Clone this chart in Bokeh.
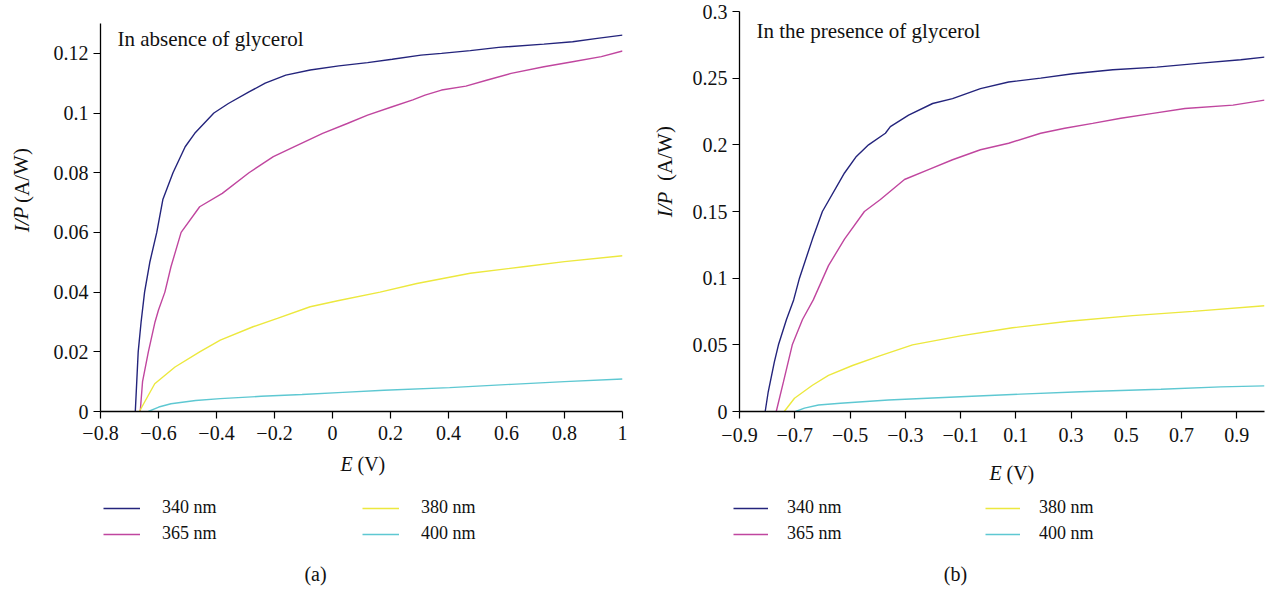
import numpy as np
from bokeh.plotting import figure
from bokeh.models import Range1d, FixedTicker, Label, Legend, LegendItem
from bokeh.layouts import row, column
from bokeh.embed import file_html
from bokeh.resources import INLINE

FONT = "Liberation Serif"
TXT_COLOR = "#111111"

# ---------------- data: panel (a) In absence of glycerol ----------------
E_340_a = [-0.680, -0.675, -0.670, -0.660, -0.648, -0.630, -0.606, -0.585, -0.550, -0.508,
           -0.475, -0.409, -0.359, -0.288, -0.232, -0.161, -0.077, 0.022, 0.121, 0.206,
           0.305, 0.376, 0.475, 0.573, 0.729, 0.828, 0.913, 1.0]
I_340_a = [0.0, 0.010, 0.020, 0.030, 0.040, 0.050, 0.060, 0.071, 0.080, 0.0887,
           0.0932, 0.100, 0.1032, 0.1071, 0.110, 0.1127, 0.1144, 0.1158, 0.1169, 0.118,
           0.1194, 0.120, 0.1209, 0.122, 0.1231, 0.1239, 0.125, 0.1261]

E_365_a = [-0.663, -0.655, -0.635, -0.612, -0.600, -0.578, -0.557, -0.522, -0.458, -0.380,
           -0.288, -0.204, -0.133, -0.034, 0.051, 0.121, 0.206, 0.277, 0.319, 0.376,
           0.460, 0.531, 0.616, 0.729, 0.828, 0.927, 1.0]
I_365_a = [0.0, 0.010, 0.020, 0.030, 0.034, 0.040, 0.0485, 0.060, 0.0686, 0.0731,
           0.080, 0.0854, 0.0887, 0.0932, 0.0965, 0.0993, 0.1021, 0.1044, 0.106, 0.1077,
           0.109, 0.111, 0.1133, 0.1155, 0.1172, 0.1189, 0.1208]

E_380_a = [-0.666, -0.613, -0.543, -0.458, -0.387, -0.274, -0.190, -0.077, 0.022, 0.164,
           0.291, 0.475, 0.658, 0.800, 1.0]
I_380_a = [0.0, 0.0093, 0.0149, 0.020, 0.0239, 0.0284, 0.0312, 0.0351, 0.0372, 0.040,
           0.0429, 0.0463, 0.0485, 0.0502, 0.0522]

E_400_a = [-0.635, -0.599, -0.557, -0.472, -0.387, -0.246, -0.105, 0.036, 0.178, 0.404,
           0.616, 0.800, 1.0]
I_400_a = [0.0, 0.0015, 0.0026, 0.0037, 0.0043, 0.0051, 0.0057, 0.0064, 0.0071, 0.0080,
           0.0091, 0.0100, 0.0109]

# ---------------- data: panel (b) In the presence of glycerol ----------------
E_340_b = [-0.807, -0.796, -0.774, -0.759, -0.730, -0.704, -0.683, -0.636, -0.600, -0.520,
           -0.477, -0.433, -0.372, -0.354, -0.288, -0.201, -0.129, -0.028, 0.074, 0.190,
           0.306, 0.451, 0.610, 0.770, 0.914, 1.0]
I_340_b = [0.0, 0.0148, 0.037, 0.050, 0.069, 0.0837, 0.100, 0.1293, 0.150, 0.1789,
           0.1913, 0.200, 0.2087, 0.2136, 0.2223, 0.231, 0.2347, 0.2422, 0.2471, 0.250,
           0.2533, 0.2563, 0.2583, 0.2613, 0.2638, 0.2658]

E_365_b = [-0.767, -0.741, -0.709, -0.672, -0.633, -0.578, -0.520, -0.448, -0.390, -0.303,
           -0.216, -0.129, -0.028, 0.074, 0.190, 0.277, 0.378, 0.480, 0.596, 0.712,
           0.886, 1.0]
I_365_b = [0.0, 0.0222, 0.050, 0.069, 0.0837, 0.1094, 0.1293, 0.150, 0.159, 0.174,
           0.1814, 0.1888, 0.1963, 0.2012, 0.2087, 0.2124, 0.2161, 0.2199, 0.2236, 0.2273,
           0.2298, 0.2335]

E_380_b = [-0.738, -0.701, -0.636, -0.578, -0.491, -0.390, -0.274, -0.100, 0.088, 0.291,
           0.523, 0.741, 1.0]
I_380_b = [0.0, 0.0099, 0.0197, 0.0271, 0.0345, 0.0419, 0.050, 0.0567, 0.0628, 0.0677,
           0.0719, 0.0751, 0.0793]

E_400_b = [-0.697, -0.665, -0.614, -0.535, -0.361, -0.100, 0.117, 0.335, 0.625, 0.842, 1.0]
I_400_b = [0.0, 0.0025, 0.0049, 0.0062, 0.0086, 0.0111, 0.0130, 0.0148, 0.0167, 0.0185, 0.0192]

series_names = ["340 nm", "365 nm", "380 nm", "400 nm"]
series_colors = ["#24247c", "#c0469f", "#ece83e", "#5ec8d2"]

# tick labels
xticks_a = [-0.8, -0.6, -0.4, -0.2, 0, 0.2, 0.4, 0.6, 0.8, 1]
xlabels_a = ["\u22120.8", "\u22120.6", "\u22120.4", "\u22120.2", "0", "0.2", "0.4", "0.6", "0.8", "1"]
yticks_a = [0, 0.02, 0.04, 0.06, 0.08, 0.1, 0.12]
ylabels_a = ["0", "0.02", "0.04", "0.06", "0.08", "0.1", "0.12"]

xticks_b = [-0.9, -0.7, -0.5, -0.3, -0.1, 0.1, 0.3, 0.5, 0.7, 0.9]
xlabels_b = ["\u22120.9", "\u22120.7", "\u22120.5", "\u22120.3", "\u22120.1", "0.1", "0.3", "0.5", "0.7", "0.9"]
yticks_b = [0, 0.05, 0.1, 0.15, 0.2, 0.25, 0.3]
ylabels_b = ["0", "0.05", "0.1", "0.15", "0.2", "0.25", "0.3"]

MAIN_H = 450
BOTTOM_H = 140


def blank_fig(width, height):
    f = figure(width=width, height=height, output_backend="svg", toolbar_location=None,
               x_range=Range1d(0, 1), y_range=Range1d(0, 1),
               x_axis_type=None, y_axis_type=None,
               min_border_left=0, min_border_right=0, min_border_top=0, min_border_bottom=0)
    f.grid.visible = False
    f.outline_line_color = None
    f.background_fill_color = "white"
    f.border_fill_color = "white"
    return f


def txt(**kw):
    d = dict(x_units="screen", y_units="screen", text_font=FONT, text_font_size="20px",
             text_color=TXT_COLOR, text_baseline="middle")
    d.update(kw)
    return d


def main_fig(width, bl, br, bt, xr, yr, xt, xl, yt, yl, data, title, title_dy, x_std):
    p = figure(width=width, height=MAIN_H, output_backend="svg", toolbar_location=None,
               x_range=Range1d(*xr), y_range=Range1d(*yr),
               min_border_left=bl, min_border_right=br,
               min_border_top=bt, min_border_bottom=39)
    p.xgrid.visible = False
    p.ygrid.visible = False
    p.outline_line_color = None
    p.background_fill_color = "white"
    p.border_fill_color = "white"
    for ax, ticks, labels, std in ((p.xaxis[0], xt, xl, x_std), (p.yaxis[0], yt, yl, 5)):
        ax.ticker = FixedTicker(ticks=ticks)
        ax.major_label_overrides = {t: s for t, s in zip(ticks, labels)}
        ax.minor_tick_line_color = None
        ax.major_tick_in = 0
        ax.major_tick_out = 7
        ax.major_tick_line_width = 1.2
        ax.axis_line_width = 1.3
        ax.axis_line_color = "black"
        ax.major_tick_line_color = "black"
        ax.major_label_text_font = FONT
        ax.major_label_text_font_size = "20px"
        ax.major_label_text_color = TXT_COLOR
        ax.major_label_standoff = std
    for (xs, ys), col in zip(data, series_colors):
        p.line(xs, ys, line_color=col, line_width=1.4)
    fh = MAIN_H - bt - 39
    p.add_layout(Label(x=17, y=fh - title_dy, text=title, **txt(text_font_size="21px")))
    return p


def ylab_fig(width, xc, y_ip, y_aw):
    f = blank_fig(width, MAIN_H)
    f.add_layout(Label(x=xc, y=y_ip, text="I/P", angle=1.5708, text_align="center",
                       **txt(text_font_style="italic", text_font_size="21px")))
    f.add_layout(Label(x=xc, y=y_aw, text="(A/W)", angle=1.5708, text_align="center",
                       **txt(text_font_size="21px")))
    return f


def bottom_fig(width, e_x, e_y, leg_x, glyph_w, standoff, pitch, cap_x, caption):
    f = blank_fig(width, BOTTOM_H)
    f.add_layout(Label(x=e_x, y=e_y, text="E", **txt(text_font_style="italic")))
    f.add_layout(Label(x=e_x + 17, y=e_y, text="(V)", **txt()))
    items = []
    for name, col in zip(series_names, series_colors):
        # legend sample only: a single undefined point, nothing is drawn in the frame
        r = f.line(x=np.array([np.nan]), y=np.array([np.nan]), line_color=col, line_width=1.6)
        items.append(LegendItem(label=name, renderers=[r]))
    legend = Legend(items=items, location=(leg_x, 46), orientation="vertical", nrows=2,
                    glyph_width=glyph_w, glyph_height=20, label_height=20,
                    label_standoff=standoff, spacing=5,
                    label_width=pitch - glyph_w - standoff - 5,
                    padding=0, margin=0, border_line_color=None, background_fill_alpha=0,
                    label_text_font=FONT, label_text_font_size="18px", label_text_color=TXT_COLOR)
    f.add_layout(legend, "center")
    f.add_layout(Label(x=cap_x, y=17, text=caption, text_align="center", **txt()))
    return f


data_a = [(E_340_a, I_340_a), (E_365_a, I_365_a), (E_380_a, I_380_a), (E_400_a, I_400_a)]
data_b = [(E_340_b, I_340_b), (E_365_b, I_365_b), (E_380_b, I_380_b), (E_400_b, I_400_b)]

# panel (a): columns 0..633 ; frame x 100..622, y 23..411
ya = ylab_fig(40, 21, 192, 236)
ma = main_fig(593, 60, 11, 23, (-0.8, 1.0), (0, 0.13), xticks_a, xlabels_a, yticks_a, ylabels_a,
              data_a, "In absence of glycerol", 15, 7)
ba = bottom_fig(633, 340, 127, 103, 37, 22, 259, 315, "(a)")

# panel (b): columns 633..1266 ; frame x 739..1264, y 11..412
yb = ylab_fig(50, 31, 207, 258)
mb = main_fig(583, 56, 2, 11, (-0.9, 1.0), (0, 0.3), xticks_b, xlabels_b, yticks_b, ylabels_b,
              data_b, "In the presence of glycerol", 19, 9)
bb = bottom_fig(633, 356, 118, 100, 35, 19, 252, 322, "(b)")

layout = row(column(row(ya, ma), ba), column(row(yb, mb), bb))
open("out.html", "w").write(file_html(layout, INLINE))
